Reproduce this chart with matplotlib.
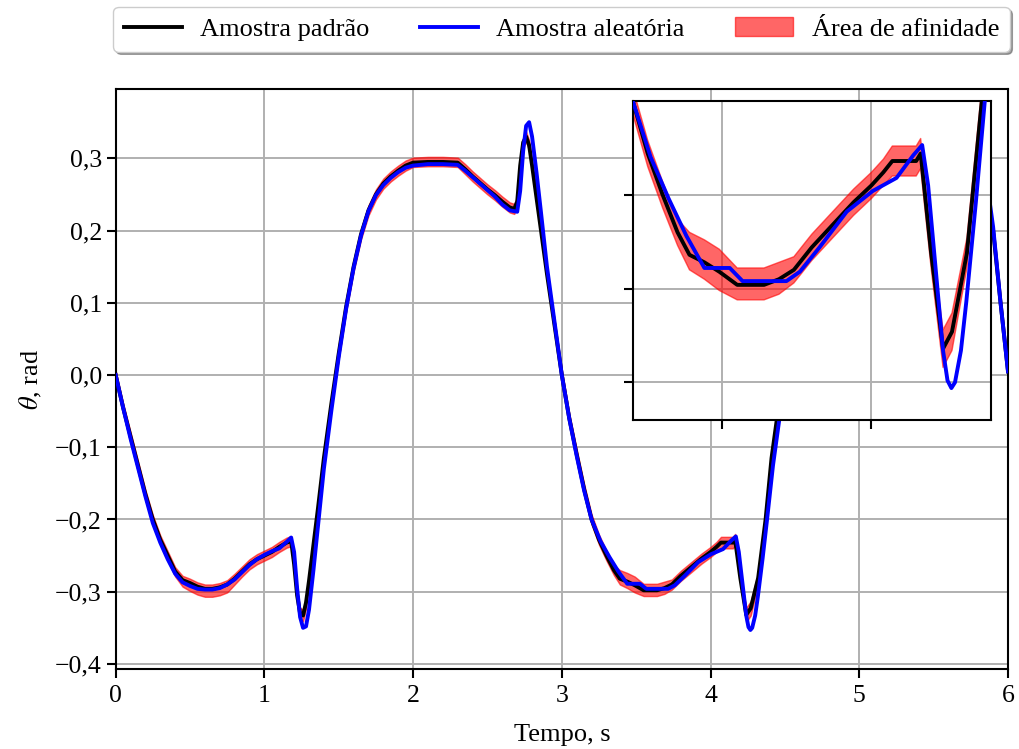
import matplotlib
matplotlib.use("Agg")
import matplotlib.pyplot as plt
from matplotlib.lines import Line2D
from matplotlib.patches import Patch
from matplotlib.ticker import FuncFormatter

plt.rcParams['font.family'] = ['Liberation Serif', 'DejaVu Serif']
plt.rcParams['mathtext.fontset'] = 'stix'

# ---------------------------------------------------------------------------
# donnees (temps en s, angle en rad)
# ---------------------------------------------------------------------------
t_pad = [0.00, 0.05, 0.10, 0.15, 0.20, 0.25, 0.30, 0.35, 0.40, 0.45,
         0.50, 0.55, 0.60, 0.65, 0.70, 0.75, 0.80, 0.85, 0.90, 0.95,
         1.00, 1.05, 1.10, 1.15, 1.18, 1.20, 1.22, 1.24, 1.26, 1.28,
         1.30, 1.33, 1.36, 1.40, 1.45, 1.50, 1.55, 1.60, 1.65, 1.70,
         1.75, 1.80, 1.85, 1.90, 1.95, 2.00, 2.10, 2.20, 2.30, 2.35,
         2.40, 2.45, 2.50, 2.55, 2.60, 2.65, 2.68, 2.70, 2.72, 2.74,
         2.76, 2.78, 2.80, 2.83, 2.86, 2.90, 2.95, 3.00,
         3.05, 3.10, 3.15, 3.20, 3.25, 3.30, 3.35, 3.39, 3.44, 3.49,
         3.55, 3.64, 3.69, 3.74, 3.80, 3.87, 3.94, 4.00, 4.04, 4.07,
         4.15, 4.165, 4.20, 4.24, 4.27, 4.32, 4.37, 4.41, 4.46, 4.51,
         4.56, 4.61, 4.66, 4.71, 4.76, 4.81, 4.86, 4.91, 4.96, 5.01,
         5.11, 5.21, 5.31, 5.36, 5.41, 5.46, 5.51, 5.56, 5.61, 5.66,
         5.70, 5.72, 5.74, 5.76, 5.78, 5.80, 5.83, 5.86, 5.90, 5.95, 6.00]
y_pad = [0.000, -0.045, -0.085, -0.125, -0.165, -0.200, -0.228, -0.250, -0.272, -0.284,
         -0.288, -0.293, -0.296, -0.296, -0.294, -0.290, -0.282, -0.272, -0.262, -0.255,
         -0.250, -0.245, -0.238, -0.232, -0.230, -0.262, -0.305, -0.330, -0.333, -0.315,
         -0.285, -0.235, -0.185, -0.115, -0.040, 0.030, 0.095, 0.150, 0.195, 0.228,
         0.250, 0.265, 0.275, 0.283, 0.290, 0.294, 0.295, 0.295, 0.294, 0.285,
         0.275, 0.266, 0.257, 0.249, 0.240, 0.232, 0.230, 0.240, 0.290, 0.322,
         0.330, 0.318, 0.290, 0.245, 0.200, 0.140, 0.070, 0.000,
         -0.060, -0.110, -0.158, -0.200, -0.228, -0.250, -0.270, -0.282, -0.286, -0.291,
         -0.298, -0.298, -0.295, -0.290, -0.278, -0.266, -0.254, -0.245, -0.238, -0.232,
         -0.232, -0.228, -0.281, -0.332, -0.323, -0.281, -0.200, -0.115, -0.040, 0.030,
         0.095, 0.150, 0.195, 0.228, 0.250, 0.265, 0.275, 0.283, 0.290, 0.294,
         0.295, 0.295, 0.294, 0.285, 0.275, 0.266, 0.257, 0.249, 0.240, 0.232,
         0.230, 0.260, 0.305, 0.328, 0.318, 0.295, 0.260, 0.230, 0.200, 0.100, 0.005]
# demi-largeurs de la zone d'affinite (au-dessus / au-dessous de la courbe noire)
w_up = [0.006, 0.006, 0.006, 0.006, 0.006, 0.006, 0.006, 0.006, 0.006, 0.006,
        0.006, 0.006, 0.006, 0.006, 0.006, 0.006, 0.007, 0.007, 0.007, 0.007,
        0.007, 0.007, 0.007, 0.007, 0.007, 0.008, 0.008, 0.008, 0.008, 0.008,
        0.007, 0.007, 0.007, 0.007, 0.007, 0.007, 0.007, 0.007, 0.007, 0.007,
        0.007, 0.007, 0.007, 0.007, 0.007, 0.007, 0.007, 0.007, 0.007, 0.007,
        0.007, 0.007, 0.007, 0.007, 0.007, 0.007, 0.007, 0.007, 0.007, 0.007,
        0.007, 0.007, 0.007, 0.007, 0.007, 0.007, 0.007, 0.007,
        0.007, 0.007, 0.007, 0.007, 0.007, 0.007, 0.007, 0.012, 0.012, 0.012,
        0.009, 0.009, 0.009, 0.007, 0.007, 0.007, 0.007, 0.007, 0.007, 0.008,
        0.008, 0.008, 0.008, 0.010, 0.010, 0.008, 0.007, 0.007, 0.007, 0.007,
        0.007, 0.007, 0.007, 0.007, 0.007, 0.007, 0.007, 0.007, 0.007, 0.007,
        0.007, 0.007, 0.007, 0.007, 0.007, 0.007, 0.007, 0.007, 0.007, 0.007,
        0.007, 0.007, 0.007, 0.007, 0.007, 0.007, 0.007, 0.007, 0.007, 0.007, 0.007]
w_dn = [0.007, 0.007, 0.007, 0.007, 0.007, 0.007, 0.007, 0.007, 0.007, 0.009,
        0.011, 0.011, 0.011, 0.011, 0.011, 0.011, 0.008, 0.007, 0.007, 0.007,
        0.007, 0.007, 0.007, 0.007, 0.007, 0.008, 0.008, 0.008, 0.008, 0.008,
        0.007, 0.007, 0.007, 0.007, 0.007, 0.007, 0.007, 0.007, 0.007, 0.007,
        0.007, 0.007, 0.007, 0.007, 0.007, 0.006, 0.006, 0.006, 0.006, 0.007,
        0.007, 0.007, 0.007, 0.007, 0.007, 0.007, 0.007, 0.007, 0.007, 0.007,
        0.007, 0.007, 0.007, 0.007, 0.007, 0.007, 0.007, 0.007,
        0.007, 0.007, 0.007, 0.007, 0.007, 0.007, 0.007, 0.008, 0.009, 0.010,
        0.008, 0.008, 0.008, 0.007, 0.007, 0.007, 0.007, 0.007, 0.007, 0.008,
        0.008, 0.008, 0.008, 0.010, 0.010, 0.008, 0.007, 0.007, 0.007, 0.007,
        0.007, 0.007, 0.007, 0.007, 0.007, 0.007, 0.007, 0.007, 0.007, 0.007,
        0.007, 0.007, 0.007, 0.007, 0.007, 0.007, 0.007, 0.007, 0.007, 0.007,
        0.007, 0.007, 0.007, 0.007, 0.007, 0.007, 0.007, 0.007, 0.007, 0.007, 0.007]

t_ale = [0.00, 0.05, 0.10, 0.15, 0.20, 0.25, 0.30, 0.35, 0.40, 0.45,
         0.50, 0.55, 0.60, 0.65, 0.70, 0.75, 0.80, 0.85, 0.90, 0.95,
         1.00, 1.05, 1.10, 1.15, 1.18, 1.20, 1.22, 1.24, 1.26, 1.28,
         1.30, 1.33, 1.36, 1.40, 1.45, 1.50, 1.55, 1.60, 1.65, 1.70,
         1.75, 1.80, 1.85, 1.90, 1.95, 2.00, 2.10, 2.20, 2.30, 2.35,
         2.40, 2.45, 2.50, 2.55, 2.60, 2.65, 2.70, 2.72, 2.74, 2.76,
         2.78, 2.80, 2.83, 2.86, 2.90, 2.95, 3.00,
         3.05, 3.10, 3.15, 3.20, 3.26, 3.32, 3.38, 3.44, 3.525, 3.568,
         3.715, 3.76, 3.826, 3.917, 4.004, 4.084, 4.14, 4.17, 4.19, 4.22,
         4.24, 4.255, 4.268, 4.28, 4.30, 4.318, 4.35, 4.38, 4.42, 4.47,
         4.52, 4.57, 4.62, 4.67, 4.72, 4.77, 4.82, 4.87, 4.92, 4.97,
         5.02, 5.12, 5.22, 5.32, 5.37, 5.42, 5.47, 5.52, 5.57, 5.62,
         5.67, 5.71, 5.73, 5.75, 5.77, 5.79, 5.81, 5.84, 5.87, 5.90,
         5.95, 6.00]
y_ale = [0.000, -0.045, -0.088, -0.128, -0.168, -0.205, -0.232, -0.255, -0.275, -0.287,
         -0.292, -0.296, -0.297, -0.297, -0.295, -0.290, -0.283, -0.273, -0.263, -0.255,
         -0.249, -0.244, -0.240, -0.231, -0.225, -0.245, -0.295, -0.335, -0.350, -0.348,
         -0.325, -0.270, -0.210, -0.130, -0.050, 0.025, 0.092, 0.148, 0.193, 0.227,
         0.249, 0.263, 0.273, 0.281, 0.287, 0.290, 0.292, 0.292, 0.291, 0.283,
         0.274, 0.265, 0.256, 0.247, 0.236, 0.228, 0.226, 0.255, 0.310, 0.345,
         0.350, 0.330, 0.280, 0.225, 0.150, 0.075, 0.000,
         -0.060, -0.112, -0.160, -0.200, -0.230, -0.252, -0.272, -0.289, -0.289, -0.296,
         -0.296, -0.291, -0.278, -0.259, -0.248, -0.241, -0.229, -0.2235, -0.245, -0.298,
         -0.333, -0.349, -0.353, -0.350, -0.333, -0.307, -0.254, -0.200, -0.125, -0.050,
         0.020, 0.090, 0.146, 0.192, 0.226, 0.248, 0.262, 0.272, 0.280, 0.286,
         0.290, 0.292, 0.292, 0.291, 0.283, 0.274, 0.265, 0.256, 0.247, 0.236,
         0.228, 0.226, 0.255, 0.310, 0.345, 0.350, 0.330, 0.290, 0.250, 0.205,
         0.100, 0.005]

x_ticks = [0, 1, 2, 3, 4, 5, 6]
y_ticks = [-0.4, -0.3, -0.2, -0.1, 0.0, 0.1, 0.2, 0.3]


def virgule(v, pos):
    s = f"{v:.1f}".replace('.', ',')
    return s.replace('-', '\u2212')


def tracer(ax):
    lo = [y - w for y, w in zip(y_pad, w_dn)]
    hi = [y + w for y, w in zip(y_pad, w_up)]
    ax.fill_between(t_pad, lo, hi, facecolor='red', edgecolor='red',
                    alpha=0.6, linewidth=1.0, zorder=2)
    ax.plot(t_pad, y_pad, color='black', lw=2.8, zorder=3)
    ax.plot(t_ale, y_ale, color='blue', lw=2.8, zorder=4)
    ax.grid(True, color='#b0b0b0', lw=1.4)
    ax.set_axisbelow(True)
    for sp in ax.spines.values():
        sp.set_linewidth(1.5)
    ax.tick_params(direction='out', length=6.5, width=1.5)


fig = plt.figure(figsize=(10.19, 7.49), dpi=100)
ax = fig.add_axes([0.1135, 0.1068, 0.8757, 0.7744])
tracer(ax)
ax.set_xlim(0, 6)
ax.set_ylim(-0.407, 0.396)
ax.set_xticks(x_ticks)
ax.set_yticks(y_ticks)
ax.yaxis.set_major_formatter(FuncFormatter(virgule))
ax.tick_params(labelsize=18.5)
ax.tick_params(axis='x', pad=5)
ax.set_xlabel('Tempo, s', fontsize=19, labelpad=12)
ax.set_ylabel(r'$\theta$, rad', fontsize=19, labelpad=8)

# zoom sur le deuxieme creux
axi = fig.add_axes([0.621, 0.4393, 0.3513, 0.4259])
tracer(axi)
axi.set_facecolor('white')
axi.set_xlim(3.2, 4.4)
axi.set_ylim(-0.37, -0.20)
axi.set_xticks([3.5, 4.0])
axi.set_yticks([-0.35, -0.30, -0.25])
axi.set_xticklabels([])
axi.set_yticklabels([])

handles = [Line2D([], [], color='black', lw=2.8),
           Line2D([], [], color='blue', lw=2.8),
           Patch(facecolor='red', edgecolor='red', alpha=0.6)]
labels = ['Amostra padrão', 'Amostra aleatória', 'Área de afinidade']
fig.legend(handles, labels, loc='center', bbox_to_anchor=(0.551, 0.961),
           ncol=3, shadow=True, fontsize=19, handlelength=2.2,
           handletextpad=0.7, columnspacing=1.9, framealpha=1)

fig.savefig('out.png', dpi=100)
